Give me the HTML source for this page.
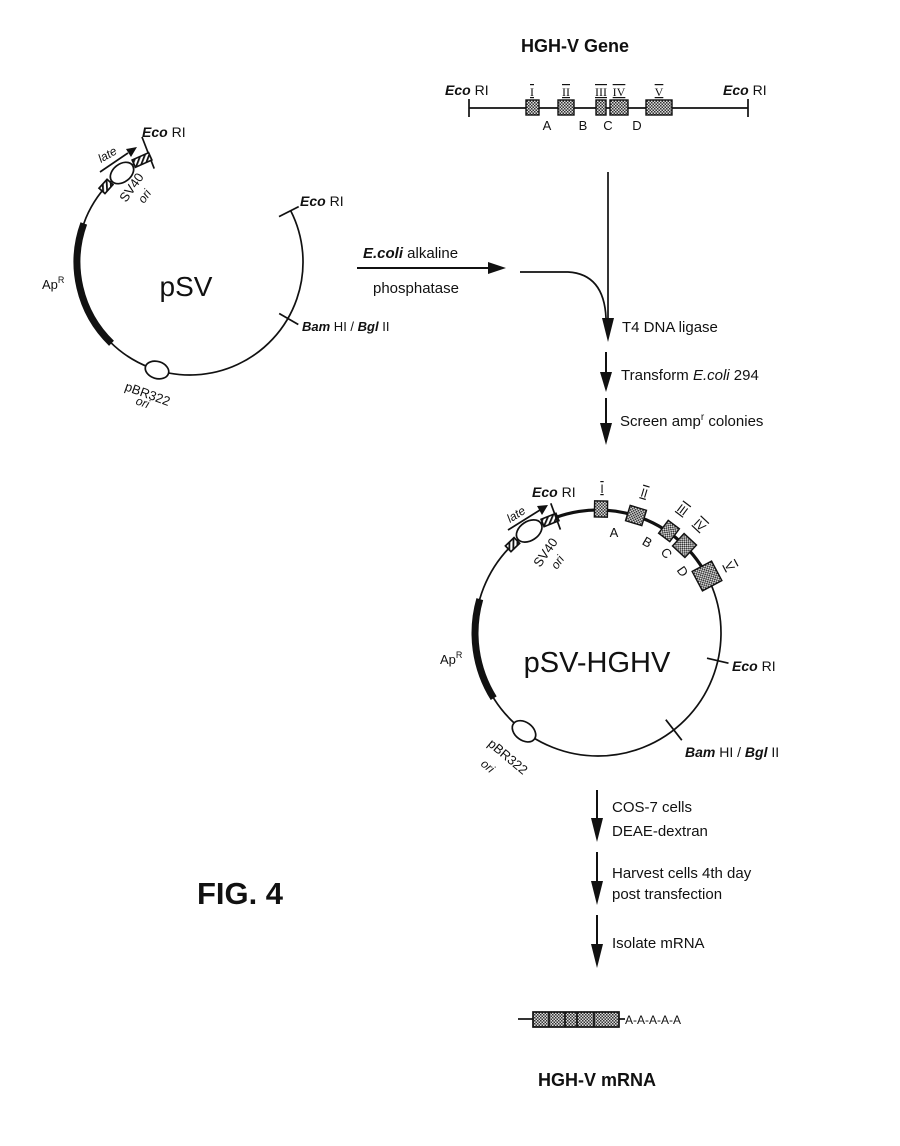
<!DOCTYPE html>
<html><head><meta charset="utf-8"><style>
html,body{margin:0;padding:0;background:#fff}
svg{display:block}
text{font-family:"Liberation Sans",sans-serif;fill:#111}
.b{font-weight:bold}
.i{font-style:italic;font-weight:bold}
</style></head><body>
<svg width="900" height="1146" viewBox="0 0 900 1146" xmlns="http://www.w3.org/2000/svg">
<defs>
<pattern id="st" width="3" height="3" patternUnits="userSpaceOnUse">
<rect width="3" height="3" fill="#ddd"/><rect width="1.5" height="1.5" fill="#333"/><rect x="1.5" y="1.5" width="1.5" height="1.5" fill="#333"/>
</pattern>
<pattern id="hh" width="4" height="4" patternUnits="userSpaceOnUse" patternTransform="rotate(45)">
<rect width="4" height="4" fill="#fff"/><rect width="1.8" height="4" fill="#111"/>
</pattern>
</defs>
<g stroke="#111" fill="none" stroke-width="1.7">

<line x1="469" y1="108" x2="748" y2="108"/>
<line x1="469" y1="99" x2="469" y2="117"/>
<line x1="748" y1="99" x2="748" y2="117"/>
<g fill="url(#st)" stroke-width="1.4">
<rect x="526" y="100" width="13" height="15"/>
<rect x="558" y="100" width="16" height="15"/>
<rect x="596" y="100" width="10" height="15"/>
<rect x="610" y="100" width="18" height="15"/>
<rect x="646" y="100" width="26" height="15"/>
</g>

<line x1="608" y1="172" x2="608" y2="318"/>
<path d="M608,318 L602,318 L608,342 L614,318 z" fill="#111" stroke="none"/>
<path d="M520,272 L568,272 Q604,274 606,318"/>
<line x1="357" y1="268" x2="492" y2="268" stroke-width="2"/>
<path d="M488,262 L506,268 L488,274 z" fill="#111" stroke="none"/>
<line x1="606" y1="352" x2="606" y2="374" stroke-width="2"/>
<path d="M600,372 L606,392 L612,372 z" fill="#111" stroke="none"/>
<line x1="606" y1="398" x2="606" y2="425" stroke-width="2"/>
<path d="M600,423 L606,445 L612,423 z" fill="#111" stroke="none"/>

<path d="M290.7,210.7 A113,113 0 1 1 149.5,156.5"/>
<path d="M111.5,343.3 A113,113 0 0 1 83.8,223.4" stroke-width="7"/>
<line x1="279" y1="216.6" x2="298.7" y2="206.6"/>
<line x1="279.2" y1="313.5" x2="298.3" y2="324.5"/>
<line x1="154.2" y1="168.6" x2="142" y2="137"/>
<ellipse cx="157" cy="370" rx="12" ry="8.5" transform="rotate(17 157 370)" fill="#fff"/>
<rect x="-6" y="-4" width="12" height="8" fill="url(#hh)" transform="translate(106 186.4) rotate(-48)"/>
<rect x="-9" y="-4" width="18" height="8" fill="url(#hh)" transform="translate(142 160) rotate(-24)"/>
<ellipse cx="122" cy="173" rx="13" ry="9" transform="rotate(-38 122 173)" fill="#fff"/>
<line x1="100" y1="172" x2="128" y2="153"/>
<path d="M126,149 L137,147 L131,157 z" fill="#111" stroke="none"/>

<circle cx="598" cy="633" r="123"/>
<path d="M532.8,528.7 A123,123 0 0 1 709.5,581" stroke-width="3.2"/>
<path d="M493.7,698.2 A123,123 0 0 1 479.8,599.1" stroke-width="7"/>
<ellipse cx="524" cy="731.3" rx="13" ry="9" transform="rotate(37 524 731.3)" fill="#fff"/>
<rect x="-6" y="-4" width="12" height="8" fill="url(#hh)" transform="translate(512.5 544.6) rotate(-44)"/>
<rect x="-8" y="-4" width="16" height="8" fill="url(#hh)" transform="translate(550 520) rotate(-22)"/>
<ellipse cx="529.2" cy="531" rx="14" ry="9.5" transform="rotate(-34 529.2 531)" fill="#fff"/>
<line x1="560.4" y1="529.6" x2="550.8" y2="503.3"/>
<line x1="508" y1="530" x2="540" y2="510"/>
<path d="M537,506 L548,505 L542,515 z" fill="#111" stroke="none"/>
<line x1="707" y1="658.2" x2="728.5" y2="663.2"/>
<line x1="665.8" y1="719.7" x2="681.8" y2="740.2"/>
<g fill="url(#st)" stroke-width="1.4">
<rect x="-6.5" y="-8" width="13" height="16" transform="translate(601 509) rotate(1)"/>
<rect x="-8.5" y="-8" width="17" height="16" transform="translate(636 515.5) rotate(17)"/>
<rect x="-7" y="-8" width="14" height="16" transform="translate(669 531) rotate(37)"/>
<rect x="-8.5" y="-8.5" width="17" height="17" transform="translate(684.5 545.5) rotate(43)"/>
<rect x="-11" y="-11" width="22" height="22" transform="translate(707 576) rotate(62)"/>
</g>

<line x1="597" y1="790" x2="597" y2="820" stroke-width="2"/>
<path d="M591,818 L597,842 L603,818 z" fill="#111" stroke="none"/>
<line x1="597" y1="852" x2="597" y2="883" stroke-width="2"/>
<path d="M591,881 L597,905 L603,881 z" fill="#111" stroke="none"/>
<line x1="597" y1="915" x2="597" y2="946" stroke-width="2"/>
<path d="M591,944 L597,968 L603,944 z" fill="#111" stroke="none"/>

<line x1="518" y1="1019" x2="533" y2="1019"/>
<rect x="533" y="1012" width="86" height="15" fill="url(#st)"/>
<line x1="549" y1="1012" x2="549" y2="1027"/>
<line x1="565" y1="1012" x2="565" y2="1027"/>
<line x1="577" y1="1012" x2="577" y2="1027"/>
<line x1="594" y1="1012" x2="594" y2="1027"/>
<line x1="619" y1="1019" x2="625" y2="1019"/>
</g>

<text x="575" y="52" font-size="18" class="b" text-anchor="middle">HGH-V Gene</text>
<text x="445" y="95" font-size="14"><tspan class="i">Eco</tspan> RI</text>
<text x="723" y="95" font-size="14"><tspan class="i">Eco</tspan> RI</text>
<g font-size="12" text-anchor="middle">
<text x="532" y="96" style="font-family:'Liberation Serif',serif" text-decoration="overline underline">I</text>
<text x="566" y="96" style="font-family:'Liberation Serif',serif" text-decoration="overline underline">II</text>
<text x="601" y="96" style="font-family:'Liberation Serif',serif" text-decoration="overline underline">III</text>
<text x="619" y="96" style="font-family:'Liberation Serif',serif" text-decoration="overline underline">IV</text>
<text x="659" y="96" style="font-family:'Liberation Serif',serif" text-decoration="overline underline">V</text>
</g>
<g font-size="13" text-anchor="middle">
<text x="547" y="130">A</text><text x="583" y="130">B</text><text x="608" y="130">C</text><text x="637" y="130">D</text>
</g>

<text x="363" y="258" font-size="15"><tspan class="i">E.coli</tspan> alkaline</text>
<text x="373" y="293" font-size="15">phosphatase</text>
<text x="622" y="332" font-size="15">T4 DNA ligase</text>
<text x="621" y="380" font-size="15">Transform <tspan font-style="italic">E.coli</tspan> 294</text>
<text x="620" y="426" font-size="15">Screen amp<tspan font-size="10" dy="-6">r</tspan><tspan dy="6"> colonies</tspan></text>

<text x="186" y="296" font-size="28" text-anchor="middle">pSV</text>
<text x="42" y="289" font-size="13">Ap<tspan font-size="9" dy="-6">R</tspan></text>
<text x="142" y="137" font-size="14"><tspan class="i">Eco</tspan> RI</text>
<text x="300" y="206" font-size="14"><tspan class="i">Eco</tspan> RI</text>
<text x="302" y="331" font-size="13"><tspan class="i">Bam</tspan> HI / <tspan class="i">Bgl</tspan> II</text>
<text font-size="12" font-style="italic" transform="translate(101 163) rotate(-30)">late</text>
<text font-size="13" transform="translate(126 203) rotate(-55)">SV40</text>
<text font-size="12" font-style="italic" transform="translate(144 204) rotate(-55)">ori</text>
<text font-size="13" transform="translate(124 390) rotate(20)">pBR322</text>
<text font-size="12" font-style="italic" transform="translate(135 404) rotate(20)">ori</text>

<text x="597" y="672" font-size="29" text-anchor="middle">pSV-HGHV</text>
<text x="440" y="664" font-size="13">Ap<tspan font-size="9" dy="-6">R</tspan></text>
<text x="532" y="497" font-size="14"><tspan class="i">Eco</tspan> RI</text>
<text x="732" y="671" font-size="14"><tspan class="i">Eco</tspan> RI</text>
<text x="685" y="757" font-size="14"><tspan class="i">Bam</tspan> HI / <tspan class="i">Bgl</tspan> II</text>
<text font-size="12" font-style="italic" transform="translate(510 523) rotate(-32)">late</text>
<text font-size="13" transform="translate(540 568) rotate(-55)">SV40</text>
<text font-size="12" font-style="italic" transform="translate(557 570) rotate(-55)">ori</text>
<text font-size="13" transform="translate(487 745) rotate(40)">pBR322</text>
<text font-size="12" font-style="italic" transform="translate(480 765) rotate(40)">ori</text>
<g font-size="12" style="font-family:'Liberation Serif',serif" text-anchor="middle">
<text x="602" y="493" text-decoration="overline underline">I</text>
<text transform="translate(643 497) rotate(17)" text-decoration="overline underline">II</text>
<text transform="translate(680 513) rotate(37)" text-decoration="overline underline">III</text>
<text transform="translate(697 528) rotate(43)" text-decoration="overline underline">IV</text>
<text transform="translate(726 568) rotate(62)" text-decoration="overline underline">V</text>
</g>
<g font-size="13" text-anchor="middle">
<text x="614" y="537">A</text>
<text transform="translate(645 546) rotate(30)">B</text>
<text transform="translate(663 556) rotate(50)">C</text>
<text transform="translate(679 574) rotate(55)">D</text>
</g>

<text x="612" y="812" font-size="15">COS-7 cells</text>
<text x="612" y="836" font-size="15">DEAE-dextran</text>
<text x="612" y="878" font-size="15">Harvest cells 4th day</text>
<text x="612" y="899" font-size="15">post transfection</text>
<text x="612" y="948" font-size="15">Isolate mRNA</text>
<text x="625" y="1024" font-size="12">A-A-A-A-A</text>
<text x="538" y="1086" font-size="18" class="b">HGH-V mRNA</text>
<text x="197" y="904" font-size="31" class="b" textLength="86" lengthAdjust="spacingAndGlyphs">FIG. 4</text>
</svg>
</body></html>
